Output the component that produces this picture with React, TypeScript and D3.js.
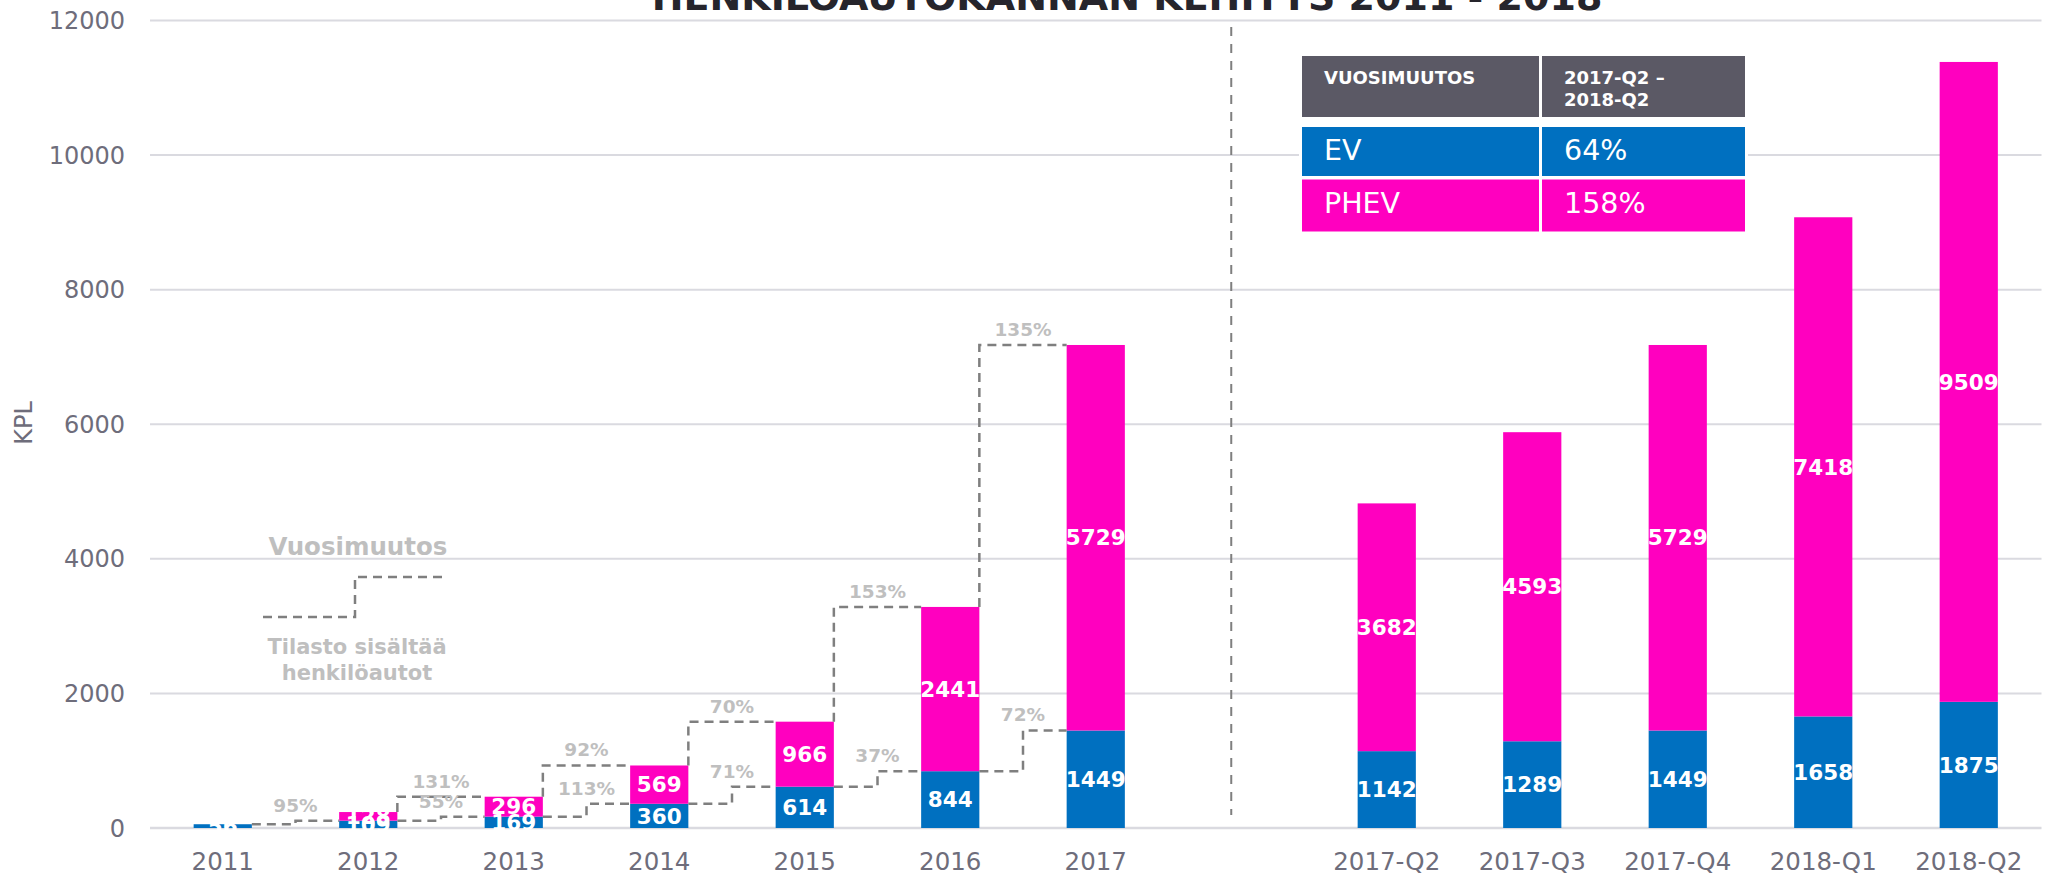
import React from "react";
import * as d3 from "d3";

const title = "HENKILÖAUTOKANNAN KEHITYS 2011 - 2018";
const years = ["2011", "2012", "2013", "2014", "2015", "2016", "2017"];
const quarters = ["2017-Q2", "2017-Q3", "2017-Q4", "2018-Q1", "2018-Q2"];
const evYears = [56, 109, 169, 360, 614, 844, 1449];
const phevYears = [0, 128, 296, 569, 966, 2441, 5729];
const evQuarters = [1142, 1289, 1449, 1658, 1875];
const phevQuarters = [3682, 4593, 5729, 7418, 9509];
const evGrowthLabels = ["95%", "55%", "113%", "71%", "37%", "72%"];
const phevGrowthLabels = ["", "131%", "92%", "70%", "153%", "135%"];
const yTicks = [0, 2000, 4000, 6000, 8000, 10000, 12000];
const tableHeader = [["VUOSIMUUTOS"], ["2017-Q2 –", "2018-Q2"]];
const tableRows = [
  ["EV", "64%"],
  ["PHEV", "158%"],
];
const legendTitle = "Vuosimuutos";
const legendNote = ["Tilasto sisältää", "henkilöautot"];
const yAxisTitle = "KPL";

const FONT = "Verdana, 'DejaVu Sans', sans-serif";
const EV_COLOR = "#0070C0";
const PHEV_COLOR = "#FF00BF";
const AXIS_TEXT = "#6E6D7B";
const GRID = "#DADAE0";
const PCT_COLOR = "#BFBFBF";
const STEP_COLOR = "#7F7F7F";
const HEADER_COLOR = "#5B5965";

export default function App() {
  const W = 2047;
  const H = 875;
  const GAP = "gap";
  const domain = [...years, GAP, ...quarters];
  const x = d3
    .scaleBand<string>()
    .domain(domain)
    .range([150, 2041.5])
    .paddingInner(0.6)
    .paddingOuter(0.3);
  const y = d3.scaleLinear().domain([0, 12000]).range([828, 20.5]);
  const bw = x.bandwidth();

  const bars = [
    ...years.map((c, i) => ({ c, ev: evYears[i], phev: phevYears[i] })),
    ...quarters.map((c, i) => ({ c, ev: evQuarters[i], phev: phevQuarters[i] })),
  ];

  const steps = evGrowthLabels.map((evLab, i) => {
    const right = (x(years[i]) as number) + bw;
    const left = x(years[i + 1]) as number;
    const mid = (right + left) / 2;
    const tot0 = evYears[i] + phevYears[i];
    const tot1 = evYears[i + 1] + phevYears[i + 1];
    const lower = d3.path();
    lower.moveTo(right, y(evYears[i]));
    lower.lineTo(mid, y(evYears[i]));
    lower.lineTo(mid, y(evYears[i + 1]));
    lower.lineTo(left, y(evYears[i + 1]));
    let upper: string | null = null;
    if (phevYears[i] > 0) {
      const p = d3.path();
      p.moveTo(right, y(tot0));
      p.lineTo(right, y(tot1));
      p.lineTo(left, y(tot1));
      upper = p.toString();
    }
    return {
      lower: lower.toString(),
      upper,
      mid,
      evLab,
      evY: y(evYears[i + 1]) - 9,
      phevLab: phevGrowthLabels[i],
      phevY: y(tot1) - 9,
    };
  });

  const sepX = (x(GAP) as number) + bw / 2 - 10;

  // table layout
  const colX = [1302, 1542];
  const colW = [237, 203];
  const rowY = [56, 127, 179.5];
  const rowH = [61, 49, 52];

  return (
    <svg
      width={W}
      height={H}
      style={{ position: "absolute", left: 0, top: 0, background: "#fff" }}
      fontFamily={FONT}
    >
      <rect x={0} y={0} width={W} height={H} fill="#fff" />
      {/* gridlines */}
      {yTicks.map((t) => (
        <line
          key={"g" + t}
          x1={150}
          x2={2041.5}
          y1={y(t)}
          y2={y(t)}
          stroke={GRID}
          strokeWidth={t === 0 ? 2.5 : 2}
        />
      ))}
      {/* y tick labels */}
      {yTicks.map((t) => (
        <text
          key={"yt" + t}
          x={125}
          y={y(t)}
          dy="0.36em"
          textAnchor="end"
          fontSize={24}
          fill={AXIS_TEXT}
        >
          {t}
        </text>
      ))}
      <text
        transform={`translate(32,423) rotate(-90)`}
        textAnchor="middle"
        fontSize={24}
        fill={AXIS_TEXT}
      >
        {yAxisTitle}
      </text>
      {/* title */}
      <text x={1127} y={10} textAnchor="middle" fontSize={38} fontWeight="bold" fill="#26252C">
        {title}
      </text>
      {/* separator */}
      <line
        x1={sepX}
        x2={sepX}
        y1={27}
        y2={815}
        stroke={STEP_COLOR}
        strokeWidth={2}
        strokeDasharray="9,8"
      />
      {/* bars */}
      {bars.map((b) => {
        const x0 = x(b.c) as number;
        return (
          <g key={"b" + b.c}>
            <rect x={x0} y={y(b.ev)} width={bw} height={y(0) - y(b.ev)} fill={EV_COLOR} />
            {b.phev > 0 && (
              <rect
                x={x0}
                y={y(b.ev + b.phev)}
                width={bw}
                height={y(b.ev) - y(b.ev + b.phev)}
                fill={PHEV_COLOR}
              />
            )}
          </g>
        );
      })}
      {/* bar labels */}
      {bars.map((b) => {
        const cx = (x(b.c) as number) + bw / 2;
        return (
          <g key={"l" + b.c} fontSize={21.5} fontWeight="bold" fill="#fff" textAnchor="middle">
            <text x={cx} y={y(b.ev / 2)} dy="0.36em">
              {b.ev}
            </text>
            {b.phev > 0 && (
              <text x={cx} y={y(b.ev + b.phev / 2)} dy="0.36em">
                {b.phev}
              </text>
            )}
          </g>
        );
      })}
      {/* step lines */}
      {steps.map((s, i) => (
        <g key={"s" + i}>
          <path d={s.lower} fill="none" stroke={STEP_COLOR} strokeWidth={2.5} strokeDasharray="9,6" />
          {s.upper && (
            <path d={s.upper} fill="none" stroke={STEP_COLOR} strokeWidth={2.5} strokeDasharray="9,6" />
          )}
          <text x={s.mid} y={s.evY} textAnchor="middle" fontSize={18.5} fontWeight="bold" fill={PCT_COLOR}>
            {s.evLab}
          </text>
          {s.phevLab && (
            <text x={s.mid} y={s.phevY} textAnchor="middle" fontSize={18.5} fontWeight="bold" fill={PCT_COLOR}>
              {s.phevLab}
            </text>
          )}
        </g>
      ))}
      {/* x labels */}
      {domain
        .filter((d) => d !== GAP)
        .map((d) => (
          <text
            key={"xl" + d}
            x={(x(d) as number) + bw / 2}
            y={870}
            textAnchor="middle"
            fontSize={24.5}
            fill={AXIS_TEXT}
          >
            {d}
          </text>
        ))}
      {/* legend annotation */}
      <text x={358} y={555} textAnchor="middle" fontSize={24.5} fontWeight="bold" fill={PCT_COLOR}>
        {legendTitle}
      </text>
      <path
        d="M263,617 H355 V577 H443"
        fill="none"
        stroke={STEP_COLOR}
        strokeWidth={2.5}
        strokeDasharray="9,6"
      />
      {legendNote.map((t, i) => (
        <text
          key={"ln" + i}
          x={357}
          y={654 + i * 26}
          textAnchor="middle"
          fontSize={21}
          fontWeight="bold"
          fill={PCT_COLOR}
        >
          {t}
        </text>
      ))}
      {/* table */}
      <rect x={1299} y={53} width={449} height={182} fill="#fff" />
      {[tableHeader, ...tableRows.map((r) => r.map((c) => [c]))].map((row, ri) => (
        <g key={"tr" + ri}>
          {row.map((cell, ci) => (
            <g key={"tc" + ci}>
              <rect
                x={colX[ci]}
                y={rowY[ri]}
                width={colW[ci]}
                height={rowH[ri]}
                fill={ri === 0 ? HEADER_COLOR : ri === 1 ? EV_COLOR : PHEV_COLOR}
              />
              {ri === 0 ? (
                <text x={colX[ci] + 22} y={84} fontSize={18} fontWeight="bold" fill="#fff">
                  {cell.map((ln, li) => (
                    <tspan key={li} x={colX[ci] + 22} y={84 + li * 22}>
                      {ln}
                    </tspan>
                  ))}
                </text>
              ) : (
                <text x={colX[ci] + 22} y={rowY[ri] + 33} fontSize={28.5} fill="#fff">
                  {cell[0]}
                </text>
              )}
            </g>
          ))}
        </g>
      ))}
    </svg>
  );
}
